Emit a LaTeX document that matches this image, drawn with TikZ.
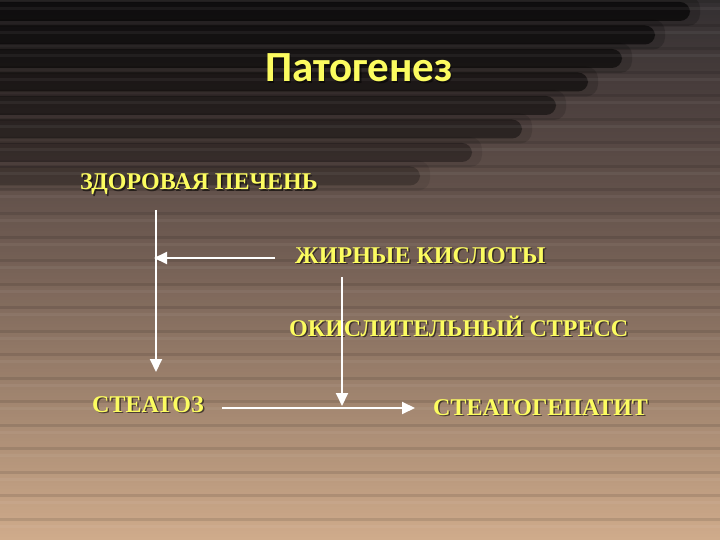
\documentclass[tikz,border=0pt]{standalone}
\usepackage{fontspec}
\setmainfont{Liberation Serif}
\newfontfamily\titlefont{Carlito}
\usetikzlibrary{arrows.meta}
\definecolor{txtyellow}{RGB}{252,252,96}
\tikzset{
  label/.style={font=\fontsize{24}{27}\selectfont\bfseries, text=txtyellow, inner sep=0pt, anchor=base west},
  shadowlabel/.style={font=\fontsize{24}{27}\selectfont\bfseries, text=black, opacity=0.55, inner sep=0pt, anchor=base west},
  conn/.style={draw=white, line width=2pt, -{Triangle[length=13pt,width=12pt]}},
}
\begin{document}
\begin{tikzpicture}[x=1pt,y=-1pt]
\useasboundingbox (0,0) rectangle (720,540);
% background: piecewise linear vertical gradient made of thin strips
\foreach \y in {0,3,...,540}{
  \pgfmathsetmacro{\t}{\y}
  \pgfmathtruncatemacro{\r}{\t<100 ? 52+(\t/100)*24 : (\t<250 ? 76+((\t-100)/150)*38 : (\t<400 ? 114+((\t-250)/150)*48 : 162+((\t-400)/140)*46))}
  \pgfmathtruncatemacro{\g}{\t<100 ? 48+(\t/100)*16 : (\t<250 ? 64+((\t-100)/150)*30 : (\t<400 ? 94+((\t-250)/150)*40 : 134+((\t-400)/140)*38))}
  \pgfmathtruncatemacro{\b}{\t<100 ? 50+(\t/100)*12 : (\t<250 ? 62+((\t-100)/150)*22 : (\t<400 ? 84+((\t-250)/150)*28 : 112+((\t-400)/140)*28))}
  \definecolor{strip}{RGB}{\r,\g,\b}
  \fill[strip] (0,\y) rectangle (720,\y+3.6);
}
% dark soft blobs at top-left
\foreach \k/\e/\o in {0/690/0.62,1/655/0.60,2/622/0.56,3/588/0.52,4/556/0.46,5/522/0.40,6/472/0.33,7/420/0.25}{
  \fill[black, opacity=0.3*\o, rounded corners=12pt] (-30,{-4+23.5*\k}) rectangle (\e+10,{26+23.5*\k});
  \fill[black, opacity=\o, rounded corners=10pt] (-30,{2+23.5*\k}) rectangle (\e,{21+23.5*\k});
}
% stripes
\foreach \i in {0,...,23}{
  \draw[black, opacity=0.10, line width=3pt] (0,{2+23.5*\i}) -- (720,{2+23.5*\i});
  \draw[white, opacity=0.05, line width=3pt] (0,{9+23.5*\i}) -- (720,{9+23.5*\i});
}
% title
\node[font=\titlefont\fontsize{43}{46}\selectfont\bfseries, text=black, opacity=0.5, inner sep=0pt, anchor=base west] at (266.5,83.5) {Патогенез};
\node[font=\titlefont\fontsize{43}{46}\selectfont\bfseries, text=txtyellow, inner sep=0pt, anchor=base west] (title) at (265,82) {Патогенез};
% labels with shadows
\node[shadowlabel] at (81.5,191.5) {ЗДОРОВАЯ ПЕЧЕНЬ};
\node[label] (healthy) at (80,190) {ЗДОРОВАЯ ПЕЧЕНЬ};
\node[shadowlabel] at (296.5,264.5) {ЖИРНЫЕ КИСЛОТЫ};
\node[label] (fatty) at (295,263) {ЖИРНЫЕ КИСЛОТЫ};
\node[shadowlabel] at (290.5,337.5) {ОКИСЛИТЕЛЬНЫЙ СТРЕСС};
\node[label] (stress) at (289,336) {ОКИСЛИТЕЛЬНЫЙ СТРЕСС};
\node[shadowlabel] at (93.5,413.5) {СТЕАТОЗ};
\node[label] (steatosis) at (92,412) {СТЕАТОЗ};
\node[shadowlabel] at (434.5,416.5) {СТЕАТОГЕПАТИТ};
\node[label] (nash) at (433,415) {СТЕАТОГЕПАТИТ};
% connector end points
\coordinate (a1) at (156,210);
\coordinate (a2) at (156,372);
\coordinate (b1) at (275,258);
\coordinate (b2) at (154,258);
\coordinate (c1) at (342,277);
\coordinate (c2) at (342,406);
\coordinate (d1) at (222,408);
\coordinate (d2) at (415,408);
\draw[conn] (a1) -- (a2);
\draw[conn] (b1) -- (b2);
\draw[conn] (d1) -- (d2);
\draw[conn] (c1) -- (c2);
\end{tikzpicture}
\end{document}
